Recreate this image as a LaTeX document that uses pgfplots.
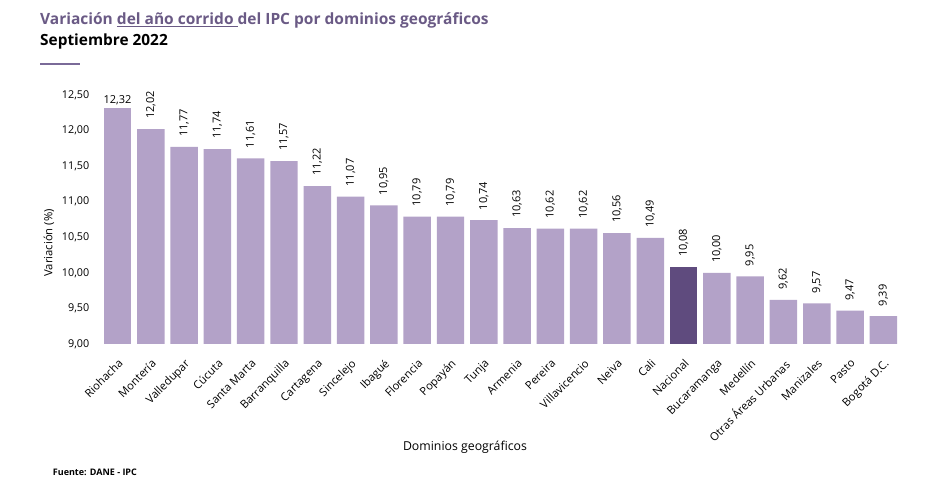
\documentclass[border=0pt]{standalone}
\usepackage{pgfplots}
\pgfplotsset{compat=1.18}
\usepackage{fontspec}
\setmainfont{Open Sans}
\definecolor{barlight}{HTML}{B3A2C8}
\definecolor{bardark}{HTML}{5F4B7E}
\definecolor{titlecol}{HTML}{6A5A85}
\definecolor{linecol}{HTML}{7A6A98}
\newcommand{\fs}[1]{\fontsize{#1bp}{#1bp}\selectfont}
\begin{document}
\begin{tikzpicture}[x=1bp,y=1bp]
\path[use as bounding box] (0,0) rectangle (930,484);
\node[anchor=base west,inner sep=0pt,text=titlecol,font=\fs{15.5}\bfseries] at (40,459) {Variación \underline{del año corrido\ }del IPC por dominios geográficos};
\node[anchor=base west,inner sep=0pt,text=black,font=\fs{15.4}\bfseries] at (40,438) {Septiembre 2022};
\draw[linecol,line width=2.5bp] (40,420) -- (80,420);
\begin{axis}[
  at={(100.85bp,140bp)}, anchor=south west,
  scale only axis, width=799.15bp, height=249bp,
  xmin=-0.5, xmax=23.5, ymin=9, ymax=12.5,
  ytick={9,9.5,10,10.5,11,11.5,12,12.5},
  xtick={0,...,23},
  xticklabels={Riohacha,Montería,Valledupar,Cúcuta,Santa Marta,Barranquilla,Cartagena,Sincelejo,Ibagué,Florencia,Popayán,Tunja,Armenia,Pereira,Villavicencio,Neiva,Cali,Nacional,Bucaramanga,Medellín,Otras Áreas Urbanas,Manizales,Pasto,Bogotá D.C.},
  axis line style={draw=none}, major tick style={draw=none},
  yticklabel style={font=\fs{10.8}, xshift=-8bp, /pgf/number format/.cd, fixed, fixed zerofill, precision=2, use comma, assume math mode=true},
  xticklabel style={font=\fs{11.2}, xshift=0bp, yshift=-10bp, rotate=45, anchor=north east, inner sep=0pt},
  ybar, bar width=0.825, bar shift=0pt,
  nodes near coords={\pgfmathprintnumber[fixed, fixed zerofill, precision=2, use comma, assume math mode=true]{\pgfplotspointmeta}},
  every node near coord/.append style={font=\fs{11}, text=black},
  clip=false,
]
\addplot[fill=barlight, draw=none, every node near coord/.append style={anchor=south, inner sep=3bp}] coordinates {(0,12.32)};
\addplot[fill=barlight, draw=none, every node near coord/.append style={rotate=90, anchor=west, inner xsep=10bp, inner ysep=0pt}] coordinates {
(1,12.02) (2,11.77) (3,11.74) (4,11.61) (5,11.57) (6,11.22) (7,11.07) (8,10.95) (9,10.79) (10,10.79) (11,10.74) (12,10.63) (13,10.62) (14,10.62) (15,10.56) (16,10.49) (18,10.00) (19,9.95) (20,9.62) (21,9.57) (22,9.47) (23,9.39)};
\addplot[fill=bardark, draw=none, every node near coord/.append style={rotate=90, anchor=west, inner xsep=10bp, inner ysep=0pt}] coordinates {(17,10.08)};
\end{axis}
\node[rotate=90, font=\fs{11.3}] at (49,241) {Variación (\%)};
\node[font=\fs{12.3}] at (465,37) {Dominios geográficos};
\node[anchor=base west, inner sep=0pt, font=\fs{9}\bfseries] at (52.7,8.3) {Fuente: DANE - IPC};
\end{tikzpicture}
\end{document}
